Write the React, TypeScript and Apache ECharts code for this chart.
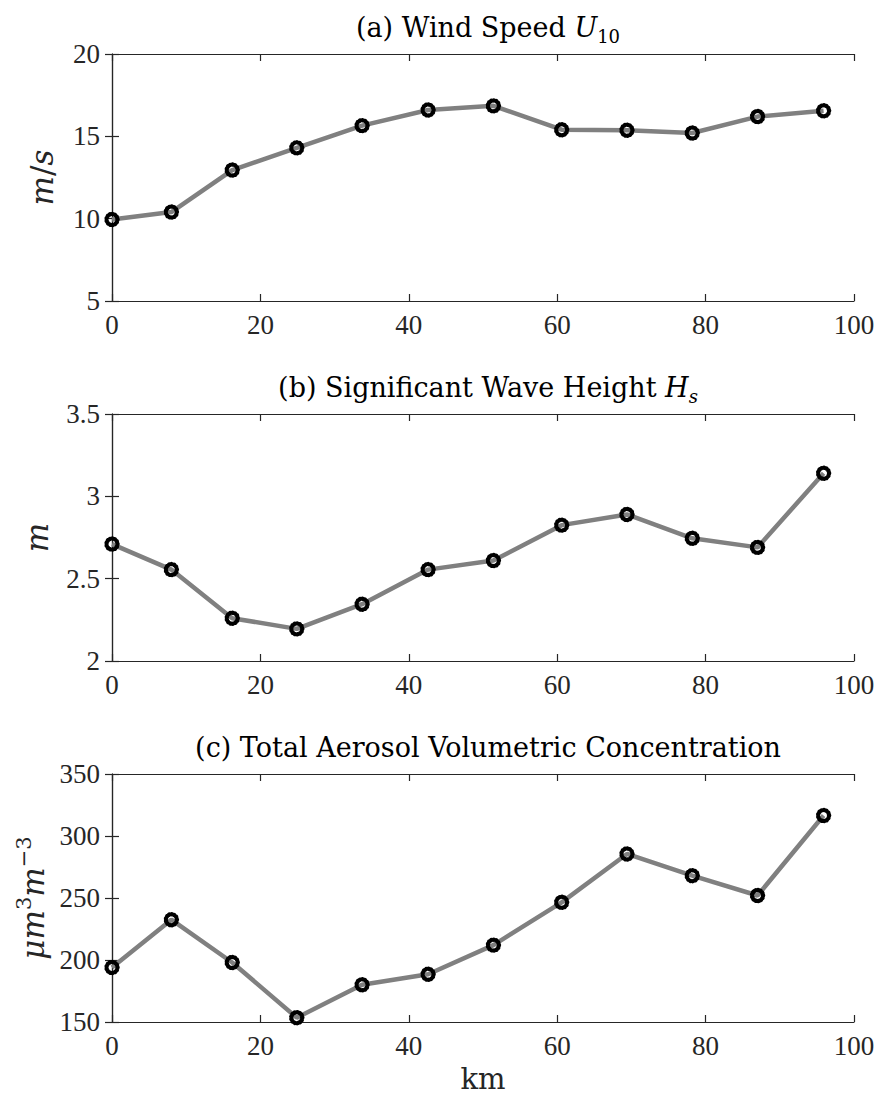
import React, { useEffect, useRef } from "react";
import * as echarts from "echarts";

const distanceKm = [0, 8.0, 16.2, 24.9, 33.7, 42.6, 51.4, 60.6, 69.4, 78.2, 87.0, 95.9];
const windSpeed = [9.95, 10.4, 12.95, 14.3, 15.65, 16.6, 16.85, 15.4, 15.37, 15.2, 16.2, 16.55];
const waveHeight = [2.71, 2.555, 2.26, 2.195, 2.345, 2.555, 2.61, 2.825, 2.89, 2.745, 2.69, 3.14];
const aerosol = [194, 232.5, 198, 153.5, 180, 188.5, 212, 246.5, 285.5, 268, 252, 316.5];

const panelTitles = [
  "(a) Wind Speed {i|U}{sub|10}",
  "(b) Significant Wave Height {i|H}{subi|s}",
  "(c) Total Aerosol Volumetric Concentration",
];
const yNames = ["{i|m}{n|/}{i|s}", "{i|m}", "{i|μm}{sup|3}{i|m}{sup|−3}"];
const yRanges = [
  { min: 5, max: 20, interval: 5 },
  { min: 2, max: 3.5, interval: 0.5 },
  { min: 150, max: 350, interval: 50 },
];
const xName = "km";

const TICKFONT = "'Liberation Serif', 'Times New Roman', serif";
const FONT = "'DejaVu Serif', serif";
const INK = "#262626";

export default function App() {
  const ref = useRef<HTMLDivElement>(null);
  useEffect(() => {
    const chart = echarts.init(ref.current!, null, { renderer: "svg" });
    const seriesData = [windSpeed, waveHeight, aerosol];
    const tops = [54, 414, 774];
    const heights = [247, 247, 248];
    const nameGaps = [50, 55, 58];
    const titleRich = {
      i: { fontFamily: FONT, fontStyle: "italic", fontSize: 27, color: "#000", lineHeight: 36 },
      sub: { fontFamily: FONT, fontSize: 18, color: "#000", verticalAlign: "bottom", lineHeight: 36 },
      subi: { fontFamily: FONT, fontSize: 18, fontStyle: "italic", color: "#000", verticalAlign: "bottom", lineHeight: 36 },
    };
    const nameRich = {
      i: { fontFamily: FONT, fontStyle: "italic", fontSize: 31, color: INK, lineHeight: 40 },
      n: { fontFamily: FONT, fontSize: 31, color: INK, lineHeight: 40 },
      sup: { fontFamily: FONT, fontSize: 21, color: INK, verticalAlign: "top", lineHeight: 40 },
    };
    const grids: any[] = [];
    const xAxes: any[] = [];
    const yAxes: any[] = [];
    const series: any[] = [];
    const titles: any[] = [];
    for (let p = 0; p < 3; p++) {
      grids.push({ left: 112, top: tops[p], width: 742, height: heights[p] });
      titles.push({
        text: panelTitles[p],
        left: 483,
        top: tops[p] - 50,
        textAlign: "center",
        textStyle: { fontFamily: FONT, fontSize: 27, fontWeight: "normal", color: "#000", lineHeight: 36, rich: titleRich },
      });
      const axisLine = { show: true, lineStyle: { color: INK, width: 1.2 } };
      const axisTick = { show: true, inside: true, length: 7, lineStyle: { color: INK, width: 1.2 } };
      xAxes.push({
        type: "value",
        gridIndex: p,
        position: "bottom",
        min: 0,
        max: 100,
        interval: 20,
        axisLine,
        axisTick,
        splitLine: { show: false },
        axisLabel: { fontFamily: TICKFONT, fontSize: 27, color: INK, margin: 10 },
        name: p === 2 ? xName : "",
        nameLocation: "middle",
        nameGap: 42,
        nameTextStyle: { fontFamily: FONT, fontSize: 29, color: INK },
      });
      xAxes.push({
        type: "value",
        gridIndex: p,
        position: "top",
        min: 0,
        max: 100,
        interval: 20,
        axisLine,
        axisTick,
        splitLine: { show: false },
        axisLabel: { show: false },
      });
      yAxes.push({
        type: "value",
        gridIndex: p,
        position: "left",
        ...yRanges[p],
        axisLine,
        axisTick,
        splitLine: { show: false },
        axisLabel: { fontFamily: TICKFONT, fontSize: 27, color: INK, margin: 12 },
        name: yNames[p],
        nameLocation: "middle",
        nameGap: nameGaps[p],
        nameTextStyle: { fontFamily: FONT, fontSize: 31, color: INK, rich: nameRich },
      });
      yAxes.push({
        type: "value",
        gridIndex: p,
        position: "right",
        ...yRanges[p],
        axisLine,
        axisTick,
        splitLine: { show: false },
        axisLabel: { show: false },
      });
      series.push({
        type: "line",
        xAxisIndex: p * 2,
        yAxisIndex: p * 2,
        data: distanceKm.map((x, i) => [x, seriesData[p][i]]),
        lineStyle: { color: "#808080", width: 4.5 },
        symbol: "circle",
        symbolSize: 11,
        itemStyle: {
          color: "rgba(0,0,0,0)",
          borderColor: "#000",
          borderWidth: 4.5,
          borderType: [0.01, 2.6],
          borderCap: "round",
        },
        emphasis: { disabled: true },
        z: 3,
      });
    }
    chart.setOption({
      animation: false,
      backgroundColor: "#fff",
      title: titles,
      grid: grids,
      xAxis: xAxes,
      yAxis: yAxes,
      series,
    });
    return () => chart.dispose();
  }, []);
  return (
    <div
      ref={ref}
      style={{ position: "absolute", left: 0, top: 0, width: 880, height: 1101, background: "#fff" }}
    />
  );
}
